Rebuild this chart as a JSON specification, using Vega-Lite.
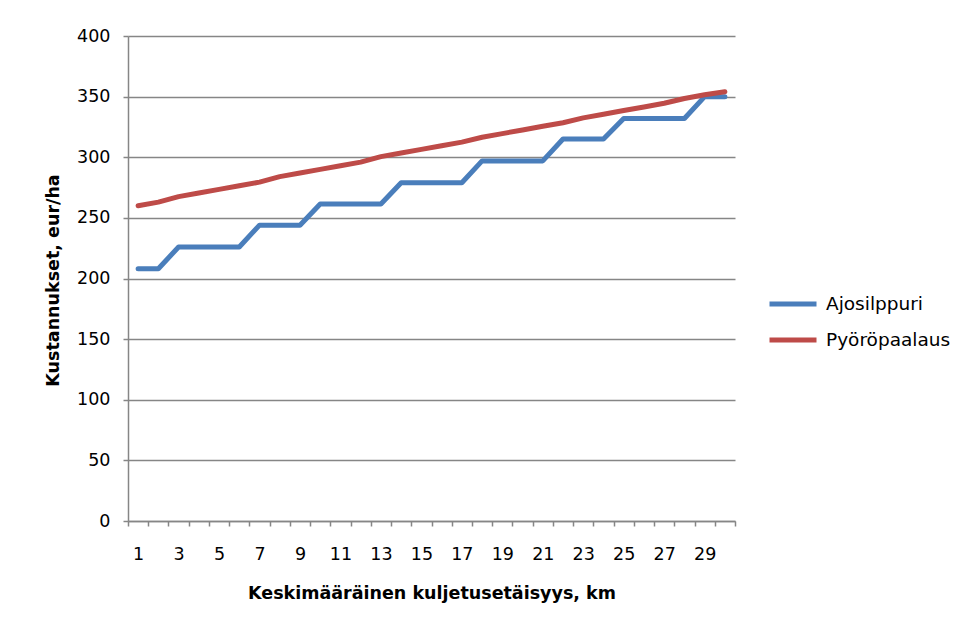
{
  "$schema": "https://vega.github.io/schema/vega-lite/v6.json",
  "width": 607,
  "height": 485,
  "autosize": {"type": "none"},
  "padding": {"left": 128, "top": 36, "right": 226, "bottom": 101},
  "background": "white",
  "config": {"view": {"stroke": null}, "font": "DejaVu Sans"},
  "data": {"values": [
    {"km": 1, "series": "Ajosilppuri", "cost": 208},
    {"km": 2, "series": "Ajosilppuri", "cost": 208},
    {"km": 3, "series": "Ajosilppuri", "cost": 226},
    {"km": 4, "series": "Ajosilppuri", "cost": 226},
    {"km": 5, "series": "Ajosilppuri", "cost": 226},
    {"km": 6, "series": "Ajosilppuri", "cost": 226},
    {"km": 7, "series": "Ajosilppuri", "cost": 244},
    {"km": 8, "series": "Ajosilppuri", "cost": 244},
    {"km": 9, "series": "Ajosilppuri", "cost": 244},
    {"km": 10, "series": "Ajosilppuri", "cost": 261.5},
    {"km": 11, "series": "Ajosilppuri", "cost": 261.5},
    {"km": 12, "series": "Ajosilppuri", "cost": 261.5},
    {"km": 13, "series": "Ajosilppuri", "cost": 261.5},
    {"km": 14, "series": "Ajosilppuri", "cost": 279},
    {"km": 15, "series": "Ajosilppuri", "cost": 279},
    {"km": 16, "series": "Ajosilppuri", "cost": 279},
    {"km": 17, "series": "Ajosilppuri", "cost": 279},
    {"km": 18, "series": "Ajosilppuri", "cost": 297},
    {"km": 19, "series": "Ajosilppuri", "cost": 297},
    {"km": 20, "series": "Ajosilppuri", "cost": 297},
    {"km": 21, "series": "Ajosilppuri", "cost": 297},
    {"km": 22, "series": "Ajosilppuri", "cost": 315},
    {"km": 23, "series": "Ajosilppuri", "cost": 315},
    {"km": 24, "series": "Ajosilppuri", "cost": 315},
    {"km": 25, "series": "Ajosilppuri", "cost": 332},
    {"km": 26, "series": "Ajosilppuri", "cost": 332},
    {"km": 27, "series": "Ajosilppuri", "cost": 332},
    {"km": 28, "series": "Ajosilppuri", "cost": 332},
    {"km": 29, "series": "Ajosilppuri", "cost": 350},
    {"km": 30, "series": "Ajosilppuri", "cost": 350},
    {"km": 1, "series": "Pyöröpaalaus", "cost": 260},
    {"km": 2, "series": "Pyöröpaalaus", "cost": 263},
    {"km": 3, "series": "Pyöröpaalaus", "cost": 267.5},
    {"km": 4, "series": "Pyöröpaalaus", "cost": 270.5},
    {"km": 5, "series": "Pyöröpaalaus", "cost": 273.5},
    {"km": 6, "series": "Pyöröpaalaus", "cost": 276.5},
    {"km": 7, "series": "Pyöröpaalaus", "cost": 279.5},
    {"km": 8, "series": "Pyöröpaalaus", "cost": 284},
    {"km": 9, "series": "Pyöröpaalaus", "cost": 287},
    {"km": 10, "series": "Pyöröpaalaus", "cost": 290},
    {"km": 11, "series": "Pyöröpaalaus", "cost": 293},
    {"km": 12, "series": "Pyöröpaalaus", "cost": 296},
    {"km": 13, "series": "Pyöröpaalaus", "cost": 300.5},
    {"km": 14, "series": "Pyöröpaalaus", "cost": 303.5},
    {"km": 15, "series": "Pyöröpaalaus", "cost": 306.5},
    {"km": 16, "series": "Pyöröpaalaus", "cost": 309.5},
    {"km": 17, "series": "Pyöröpaalaus", "cost": 312.5},
    {"km": 18, "series": "Pyöröpaalaus", "cost": 316.5},
    {"km": 19, "series": "Pyöröpaalaus", "cost": 319.5},
    {"km": 20, "series": "Pyöröpaalaus", "cost": 322.5},
    {"km": 21, "series": "Pyöröpaalaus", "cost": 325.5},
    {"km": 22, "series": "Pyöröpaalaus", "cost": 328.5},
    {"km": 23, "series": "Pyöröpaalaus", "cost": 332.5},
    {"km": 24, "series": "Pyöröpaalaus", "cost": 335.5},
    {"km": 25, "series": "Pyöröpaalaus", "cost": 338.5},
    {"km": 26, "series": "Pyöröpaalaus", "cost": 341.5},
    {"km": 27, "series": "Pyöröpaalaus", "cost": 344.5},
    {"km": 28, "series": "Pyöröpaalaus", "cost": 348.5},
    {"km": 29, "series": "Pyöröpaalaus", "cost": 351.5},
    {"km": 30, "series": "Pyöröpaalaus", "cost": 354}
  ]},
  "mark": {"type": "line", "strokeWidth": 5, "strokeCap": "round", "strokeJoin": "round"},
  "encoding": {
    "x": {
      "field": "km",
      "type": "ordinal",
      "scale": {"type": "band", "paddingInner": 0, "paddingOuter": 0},
      "axis": {
        "title": "Keskimääräinen kuljetusetäisyys, km",
        "labelAngle": 0,
        "tickBand": "extent",
        "labelExpr": "datum.value % 2 == 1 ? datum.label : ''",
        "labelOverlap": false,
        "grid": false,
        "domainColor": "#868686",
        "domainWidth": 1.5,
        "tickColor": "#868686",
        "tickWidth": 1.5,
        "tickSize": 5,
        "labelFont": "DejaVu Sans",
        "labelFontSize": 17.5,
        "labelColor": "#000000",
        "labelPadding": 28,
        "labelBaseline": "middle",
        "titleFont": "DejaVu Sans",
        "titleFontWeight": "bold",
        "titleFontSize": 17.5,
        "titleColor": "#000000",
        "titleY": 72,
        "titleBaseline": "middle"
      }
    },
    "y": {
      "field": "cost",
      "type": "quantitative",
      "scale": {"domain": [0, 400], "nice": false},
      "axis": {
        "title": "Kustannukset, eur/ha",
        "values": [0, 50, 100, 150, 200, 250, 300, 350, 400],
        "grid": true,
        "gridColor": "#868686",
        "gridWidth": 1.3,
        "domainColor": "#868686",
        "domainWidth": 1.5,
        "tickColor": "#868686",
        "tickWidth": 1.5,
        "tickSize": 5,
        "labelFlush": false,
        "labelPadding": 13,
        "labelFont": "DejaVu Sans",
        "labelFontSize": 17.5,
        "labelColor": "#000000",
        "titleFont": "DejaVu Sans",
        "titleFontWeight": "bold",
        "titleFontSize": 17.5,
        "titleColor": "#000000",
        "titleAngle": -90,
        "titleX": -75,
        "titleY": 244,
        "titleBaseline": "middle",
        "titleAlign": "center"
      }
    },
    "color": {
      "field": "series",
      "type": "nominal",
      "scale": {"domain": ["Ajosilppuri", "Pyöröpaalaus"], "range": ["#4A7EBB", "#BE4B48"]},
      "legend": {
        "title": null,
        "orient": "none",
        "legendX": 639,
        "legendY": 242,
        "padding": 0,
        "symbolType": "stroke",
        "symbolSize": 2209,
        "symbolStrokeWidth": 5,
        "labelFont": "DejaVu Sans",
        "labelFontSize": 18.5,
        "labelColor": "#000000",
        "labelOffset": 7,
        "labelLimit": 0,
        "rowPadding": -6
      }
    }
  }
}
